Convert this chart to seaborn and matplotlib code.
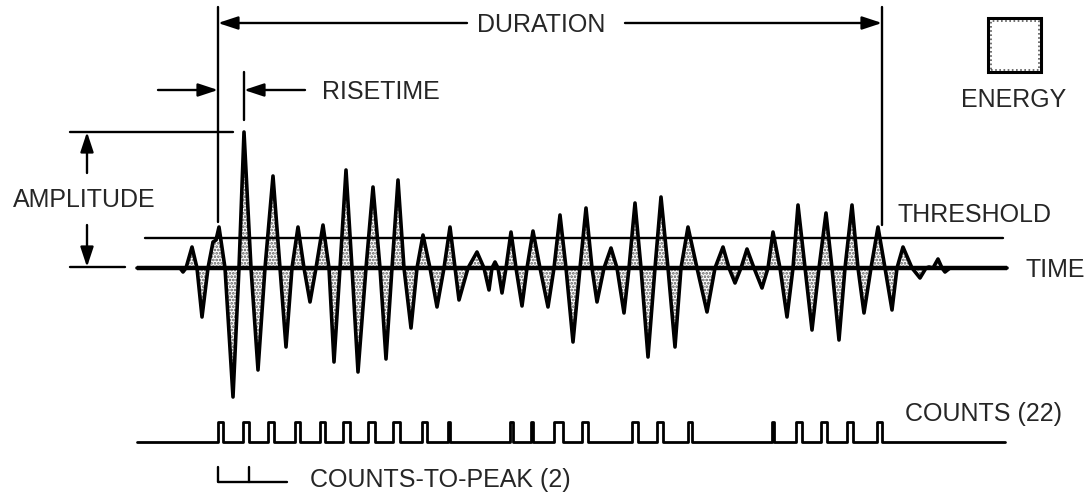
import numpy as np
import matplotlib
matplotlib.use("Agg")
import matplotlib.pyplot as plt
import seaborn as sns
from matplotlib.patches import Rectangle

# ---------------- data ----------------
# waveform vertices: time (arbitrary units) and amplitude (baseline = 0)
wave_t = [137, 180, 183, 186, 192, 197, 202, 208, 213, 216, 219, 225, 233, 239, 244, 251,
          258, 265, 273, 280, 286, 292, 298, 304, 310, 316, 323, 329, 334, 340, 346, 352,
          358, 366, 373, 380, 386, 392, 398, 404, 411, 417, 423, 430, 437, 444, 450, 455,
          459, 468, 477, 484, 489, 492, 495, 498, 502, 506, 511, 516, 522, 527, 533, 540,
          548, 554, 560, 566, 573, 580, 586, 592, 597, 604, 611, 617, 624, 629, 635, 641,
          648, 655, 661, 668, 675, 681, 688, 697, 707, 715, 723, 729, 735, 741, 747, 754,
          762, 768, 773, 780, 787, 793, 798, 805, 812, 819, 826, 832, 839, 845, 852, 858,
          864, 871, 878, 885, 892, 897, 903, 912, 920, 926, 929, 933, 938, 942, 945, 950, 1007]
wave_a = [0, 0, -4, 0, 21, 0, -49, 0, 26, 28, 41, 0, -129, 0, 136, 0,
          -102, 0, 92, 0, -79, 0, 41, 0, -34, 0, 43, 0, -94, 0, 98, 0,
          -104, 0, 81, 0, -91, 0, 88, 0, -60, 0, 33, 0, -39, 0, 41, 0,
          -32, 0, 16, 0, -22, 0, 6, 0, -25, 0, 36, 0, -38, 0, 37, 0,
          -39, 0, 53, 0, -74, 0, 60, 0, -34, 0, 20, 0, -45, 0, 65, 0,
          -89, 0, 71, 0, -79, 0, 41, 0, -44, 0, 21, 0, -15, 0, 19, 0,
          -20, 0, 36, 0, -49, 0, 63, 0, -62, 0, 55, 0, -72, 0, 63, 0,
          -45, 0, 41, 0, -42, 0, 21, 0, -10, 0, 1, 0, 9, 0, -4, 0, 0]

threshold = 30

# count pulses (start, end) — 22 threshold crossings
pulse_start = [218, 243, 268, 295, 320, 343, 368, 393, 422, 448,
               510, 531, 554, 582, 632, 657, 688,
               772, 796, 821, 847, 877]
pulse_end = [223, 249, 274, 300, 325, 350, 375, 400, 427, 450,
             513, 533, 563, 588, 638, 663, 692,
             774, 802, 827, 853, 882]

labels = {
    "duration": "DURATION",
    "risetime": "RISETIME",
    "amplitude": "AMPLITUDE",
    "threshold": "THRESHOLD",
    "time": "TIME",
    "energy": "ENERGY",
    "counts": "COUNTS (22)",
    "ctp": "COUNTS-TO-PEAK (2)",
}

# ---------------- figure ----------------
sns.set_theme(style="white")
plt.rcParams["font.family"] = ["Liberation Sans", "DejaVu Sans"]
plt.rcParams["hatch.linewidth"] = 1.3

fig = plt.figure(figsize=(10.88, 5.0), dpi=100)
ax = fig.add_axes([0, 0, 1, 1])
BASE = 268  # pixel row of the time axis
ax.set_xlim(0, 1088)
ax.set_ylim(BASE - 500, BASE)
ax.axis("off")


def py(ypx):
    """layout helper: pixel row -> axis units"""
    return BASE - ypx


K = "black"
FS = 18

# waveform fill (stipple) and outline
ax.fill_between(wave_t, wave_a, 0, facecolor="white", edgecolor="#5a5a5a",
                hatch=".....", linewidth=0, zorder=1)
sns.lineplot(x=wave_t, y=wave_a, sort=False, estimator=None, color=K,
             linewidth=2.6, ax=ax, zorder=3)
# time axis
ax.plot([137, 1007], [0, 0], color=K, lw=3.2, zorder=4, solid_capstyle="butt")
# threshold
ax.plot([145, 1003], [threshold, threshold], color=K, lw=1.7, zorder=4)

# counts trace
LOW, HIGH = py(442), py(422)
ct_x = [137]
ct_y = [LOW]
for s, e in zip(pulse_start, pulse_end):
    ct_x += [s, s, e, e]
    ct_y += [LOW, HIGH, HIGH, LOW]
ct_x.append(1005)
ct_y.append(LOW)
sns.lineplot(x=ct_x, y=ct_y, sort=False, estimator=None, color=K,
             linewidth=2.0, ax=ax)

# counts-to-peak bracket
ax.plot([218, 218, 287], [py(467), py(482), py(482)], color=K, lw=1.7)
ax.plot([249, 249], [py(467), py(482)], color=K, lw=1.7)

arrow = dict(arrowstyle="-|>,head_length=1.0,head_width=0.33", color=K, lw=1.7,
             shrinkA=0, shrinkB=0)

# duration
ax.plot([218, 218], [py(7), py(222)], color=K, lw=1.7)
ax.plot([882, 882], [py(7), py(225)], color=K, lw=1.7)
ax.annotate("", xy=(218, py(23)), xytext=(467, py(23)), arrowprops=arrow)
ax.annotate("", xy=(882, py(23)), xytext=(625, py(23)), arrowprops=arrow)
ax.text(541, py(23) - 9, labels["duration"], ha="center", va="baseline", fontsize=FS)

# risetime
ax.plot([244, 244], [py(72), py(120)], color=K, lw=1.7)
ax.annotate("", xy=(218, py(90)), xytext=(158, py(90)), arrowprops=arrow)
ax.annotate("", xy=(244, py(90)), xytext=(305, py(90)), arrowprops=arrow)
ax.text(322, py(90) - 9, labels["risetime"], ha="left", va="baseline", fontsize=FS)

# amplitude
ax.plot([70, 233], [py(132), py(132)], color=K, lw=1.7)
ax.plot([70, 125], [py(267), py(267)], color=K, lw=1.7)
ax.annotate("", xy=(87, py(132)), xytext=(87, py(173)), arrowprops=arrow)
ax.annotate("", xy=(87, py(267)), xytext=(87, py(225)), arrowprops=arrow)
ax.text(84, py(198) - 9, labels["amplitude"], ha="center", va="baseline", fontsize=FS)

# right-hand labels
ax.text(898, py(213) - 9, labels["threshold"], ha="left", va="baseline", fontsize=FS)
ax.text(1025, py(268) - 9, labels["time"], ha="left", va="baseline", fontsize=FS)
ax.text(905, py(412) - 9, labels["counts"], ha="left", va="baseline", fontsize=FS)
ax.text(310, py(478) - 9, labels["ctp"], ha="left", va="baseline", fontsize=FS)

# energy box
ax.add_patch(Rectangle((988, py(72)), 53, 54, facecolor="white", edgecolor=K, lw=2.2))
ax.add_patch(Rectangle((990.5, py(69.5)), 48, 49, facecolor="none", edgecolor="#555555",
                       lw=1.2, linestyle=(0, (1, 1.5))))
ax.text(1014, py(98) - 9, labels["energy"], ha="center", va="baseline", fontsize=FS)

fig.savefig("out.png", dpi=100)
